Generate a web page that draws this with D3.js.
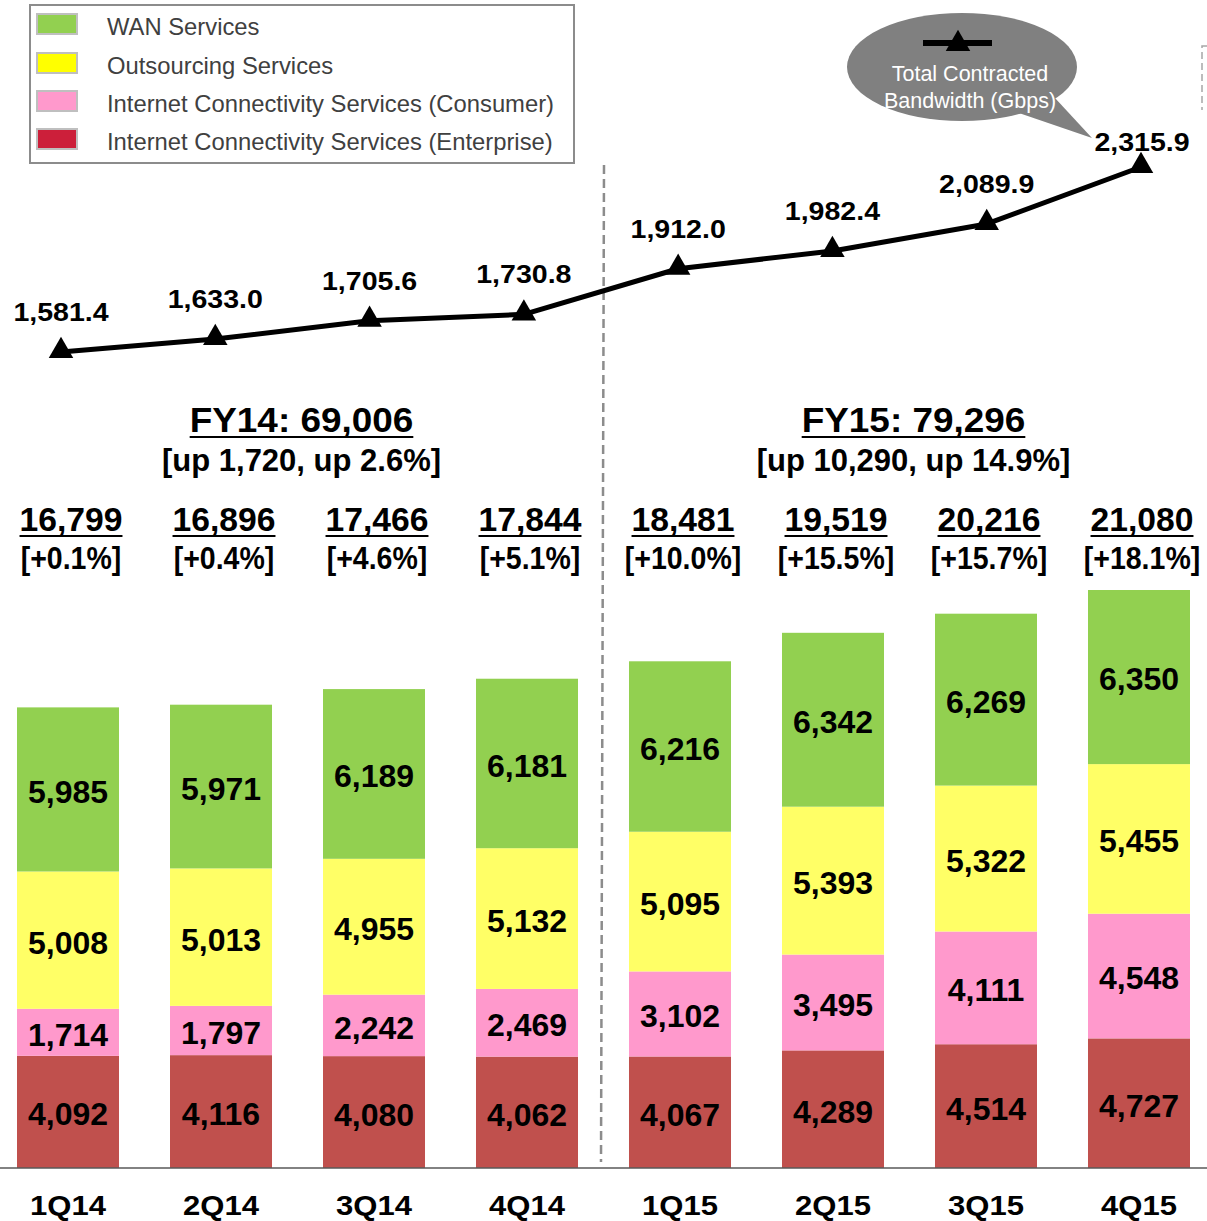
<!DOCTYPE html>
<html>
<head>
<meta charset="utf-8">
<script src="https://cdn.jsdelivr.net/npm/d3@7"></script>
<style>
  body { margin: 0; background: #fff; }
  svg { display: block; }
</style>
</head>
<body>
<svg id="chart" width="1207" height="1221"></svg>
<script>
// data
var quarters = ['1Q14', '2Q14', '3Q14', '4Q14', '1Q15', '2Q15', '3Q15', '4Q15'];
var enterprise = [4092, 4116, 4080, 4062, 4067, 4289, 4514, 4727];
var consumer = [1714, 1797, 2242, 2469, 3102, 3495, 4111, 4548];
var outsourcing = [5008, 5013, 4955, 5132, 5095, 5393, 5322, 5455];
var wan = [5985, 5971, 6189, 6181, 6216, 6342, 6269, 6350];
var totals = ['16,799', '16,896', '17,466', '17,844', '18,481', '19,519', '20,216', '21,080'];
var growth = ['[+0.1%]', '[+0.4%]', '[+4.6%]', '[+5.1%]', '[+10.0%]', '[+15.5%]', '[+15.7%]', '[+18.1%]'];
var bandwidth = [1581.4, 1633.0, 1705.6, 1730.8, 1912.0, 1982.4, 2089.9, 2315.9];
var fiscalYears = ['FY14: 69,006', 'FY15: 79,296'];
var fiscalNotes = ['[up 1,720, up 2.6%]', '[up 10,290, up 14.9%]'];
var seriesNames = ['WAN Services', 'Outsourcing Services', 'Internet Connectivity Services (Consumer)', 'Internet Connectivity Services (Enterprise)'];

var barColors = { enterprise: '#c0504d', consumer: '#ff99cc', outsourcing: '#ffff66', wan: '#92d050' };
var legendColors = ['#92d050', '#ffff00', '#ff99cc', '#cc1f3a'];

var svg = d3.select('#chart');
var baseY = 1168;
var labelFont = "'Liberation Sans', Arial, sans-serif";

// scales
var x = d3.scaleBand().domain(quarters).range([17, 1190]).paddingInner(0.3333).paddingOuter(0);
var y = d3.scaleLinear().domain([0, 21080]).range([baseY, 590]);
var xl = d3.scalePoint().domain(quarters).range([61, 1141]);
var yl = d3.scaleLinear().domain([1581.4, 2315.9]).range([352, 167]);

function cx(q) { return x(q) + x.bandwidth() / 2; }

// bold text with a horizontal stretch, the original face is wider/narrower than Arial
function boldText(sel, tx, ty, size, sx, txt) {
    return sel.append('text')
        .attr('transform', 'translate(' + tx + ',' + ty + ') scale(' + sx + ',1)')
        .attr('text-anchor', 'middle')
        .style('font', 'bold ' + size + 'px ' + labelFont)
        .text(txt);
}

var rows = quarters.map(function (q, i) {
    return { q: q, enterprise: enterprise[i], consumer: consumer[i], outsourcing: outsourcing[i], wan: wan[i] };
});
var keys = ['enterprise', 'consumer', 'outsourcing', 'wan'];
var stack = d3.stack().keys(keys)(rows);

// bars
var layers = svg.append('g').attr('class', 'bars')
    .selectAll('g').data(stack).enter().append('g')
    .attr('fill', function (d) { return barColors[d.key]; });

layers.selectAll('rect').data(function (d) { return d; }).enter().append('rect')
    .attr('x', function (d) { return x(d.data.q); })
    .attr('width', x.bandwidth())
    .attr('y', function (d) { return y(d[1]); })
    .attr('height', function (d) { return y(d[0]) - y(d[1]); });

layers.selectAll('text').data(function (d) { return d.map(function (v) { return { v: v, key: d.key }; }); })
    .enter().append('text')
    .attr('x', function (d) { return cx(d.v.data.q); })
    .attr('y', function (d) { return (y(d.v[0]) + y(d.v[1])) / 2; })
    .attr('dy', '0.42em')
    .attr('text-anchor', 'middle')
    .attr('fill', '#000')
    .style('font', 'bold 32px ' + labelFont)
    .text(function (d) { return d3.format(',')(d.v.data[d.key]); });

// baseline
svg.append('line')
    .attr('x1', 0).attr('x2', 1207).attr('y1', baseY).attr('y2', baseY)
    .attr('stroke', '#595959').attr('stroke-width', 1.5);

// quarter labels
var qLabels = svg.append('g').attr('class', 'x-labels');
quarters.forEach(function (q) {
    boldText(qLabels, cx(q), 1215, 27, 1.15, q);
});

// divider between fiscal years
svg.append('line')
    .attr('x1', 604).attr('y1', 165).attr('x2', 601).attr('y2', 1162)
    .attr('stroke', '#8c8c8c').attr('stroke-width', 2.5)
    .attr('stroke-dasharray', '9,5');

svg.append('path')
    .attr('d', 'M1207,46 L1202,46 L1202,110')
    .attr('fill', 'none')
    .attr('stroke', '#a6a6a6').attr('stroke-width', 1.5)
    .attr('stroke-dasharray', '7,4');

// quarterly totals and growth
var heads = svg.append('g').attr('class', 'heads');
quarters.forEach(function (q, i) {
    var hx = cx(q) + 3;
    var t = boldText(heads, hx, 531, 33, 1.02, totals[i]);
    var w = t.node().getComputedTextLength() * 1.02;
    heads.append('line')
        .attr('x1', hx - w / 2).attr('x2', hx + w / 2)
        .attr('y1', 536).attr('y2', 536)
        .attr('stroke', '#000').attr('stroke-width', 2);
    boldText(heads, hx, 569, 31, 0.92, growth[i]);
});

// fiscal year summaries
var fyCenters = [[quarters[0], quarters[3]], [quarters[4], quarters[7]]].map(function (p) {
    return (x(p[0]) + x(p[1]) + x.bandwidth()) / 2;
});
fiscalYears.forEach(function (t, i) {
    var fx = fyCenters[i] + 4;
    var title = boldText(svg, fx, 432, 34.5, 1.07, t);
    var w = title.node().getComputedTextLength() * 1.07;
    svg.append('line')
        .attr('x1', fx - w / 2).attr('x2', fx + w / 2)
        .attr('y1', 437).attr('y2', 437)
        .attr('stroke', '#000').attr('stroke-width', 2);
    boldText(svg, fx, 471, 31, 1.0, fiscalNotes[i]);
});

// bandwidth line
var line = d3.line()
    .x(function (d, i) { return xl(quarters[i]); })
    .y(function (d) { return yl(d); });

svg.append('path')
    .datum(bandwidth)
    .attr('d', line)
    .attr('fill', 'none')
    .attr('stroke', '#000')
    .attr('stroke-width', 5)
    .attr('stroke-linejoin', 'round');

var tri = d3.symbol().type(d3.symbolTriangle).size(260);
svg.append('g').selectAll('path').data(bandwidth).enter().append('path')
    .attr('d', tri)
    .attr('transform', function (d, i) { return 'translate(' + xl(quarters[i]) + ',' + (yl(d) - 1) + ')'; })
    .attr('fill', '#000');

var last = bandwidth.length - 1;
var bwLabels = svg.append('g').attr('class', 'bw-labels');
bandwidth.forEach(function (d, i) {
    var tx = xl(quarters[i]) + (i == last ? 1 : 0);
    var ty = yl(d) - (i == last ? 16 : 31);
    boldText(bwLabels, tx, ty, 25.5, 1.12, d3.format(',.1f')(d));
});

// callout bubble
var bubble = svg.append('g').attr('class', 'bubble');
bubble.append('path')
    .attr('d', 'M1010,110 L1092,138 L1055,98 Z')
    .attr('fill', '#808080');
bubble.append('ellipse')
    .attr('cx', 962).attr('cy', 67).attr('rx', 115).attr('ry', 54)
    .attr('fill', '#808080');
bubble.append('line')
    .attr('x1', 923).attr('x2', 992).attr('y1', 43).attr('y2', 43)
    .attr('stroke', '#000').attr('stroke-width', 6);
bubble.append('path')
    .attr('d', tri)
    .attr('transform', 'translate(958,44)')
    .attr('fill', '#000');
bubble.selectAll('text').data(['Total Contracted', 'Bandwidth (Gbps)']).enter().append('text')
    .attr('x', 970)
    .attr('y', function (d, i) { return 81 + i * 27; })
    .attr('text-anchor', 'middle')
    .attr('fill', '#fff')
    .style('font', '21.5px ' + labelFont)
    .text(function (d) { return d; });

// legend
var legend = svg.append('g').attr('class', 'legend');
legend.append('rect')
    .attr('x', 30).attr('y', 5).attr('width', 544).attr('height', 158)
    .attr('fill', '#fff').attr('stroke', '#8c8c8c').attr('stroke-width', 2);
var legendY = [24, 63, 101, 139];
var items = legend.selectAll('g.item').data(seriesNames).enter().append('g')
    .attr('class', 'item')
    .attr('transform', function (d, i) { return 'translate(0,' + legendY[i] + ')'; });
items.append('rect')
    .attr('x', 37).attr('y', -10).attr('width', 40).attr('height', 20)
    .attr('fill', function (d, i) { return legendColors[i]; })
    .attr('stroke', '#bfbfbf').attr('stroke-width', 2);
items.append('text')
    .attr('x', 107).attr('y', 4)
    .attr('dy', '0.3em')
    .attr('fill', '#404040')
    .style('font', '23.8px ' + labelFont)
    .text(function (d) { return d; });
</script>
</body>
</html>
